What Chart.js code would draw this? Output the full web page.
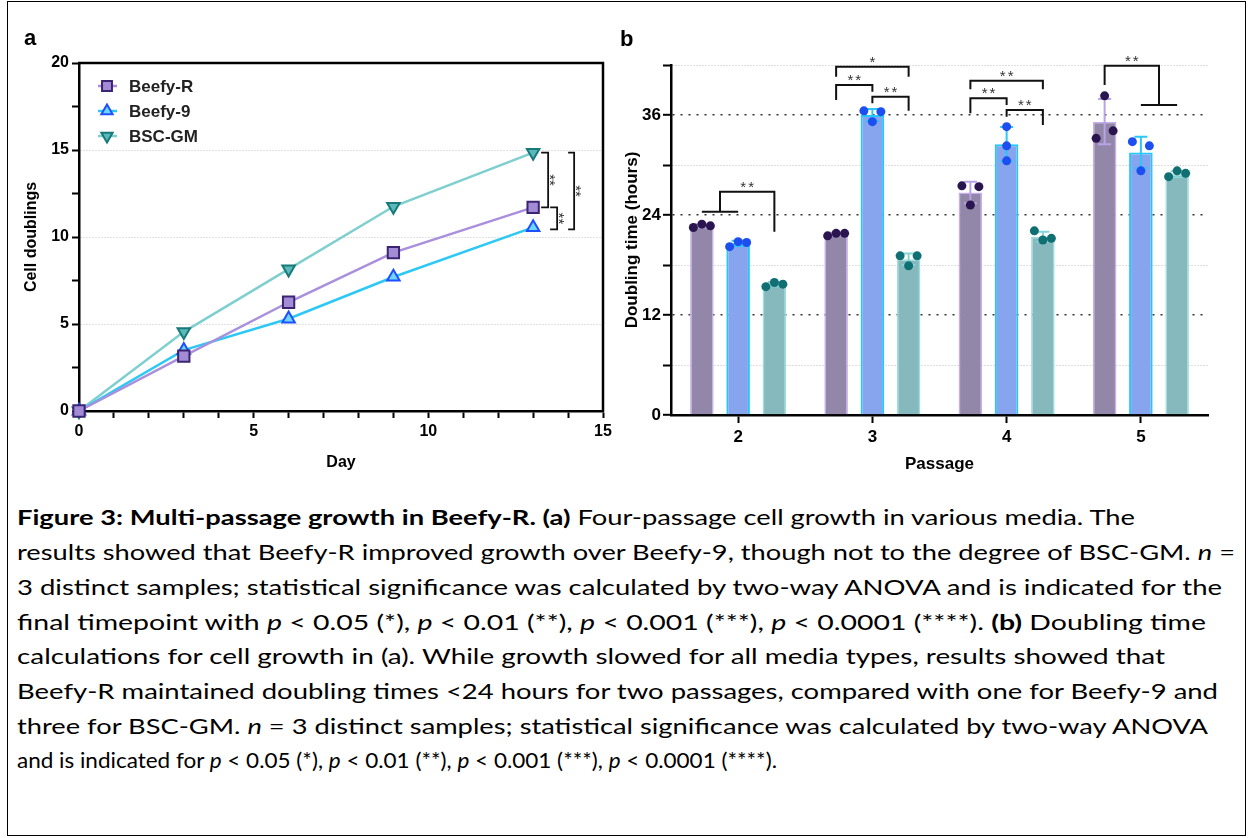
<!DOCTYPE html>
<html><head><meta charset="utf-8">
<script src="https://cdn.jsdelivr.net/npm/chart.js@4.4.1/dist/chart.umd.min.js"></script>
<style>
html,body{margin:0;padding:0;background:#fff;}
body{width:1253px;height:838px;position:relative;overflow:hidden;font-family:"Liberation Sans",Arial,sans-serif;}
#frame{position:absolute;left:7px;top:1px;width:1239px;height:835px;border:1.5px solid #000;box-sizing:border-box;pointer-events:none;z-index:5;}
.lbl{position:absolute;font:bold 22px "Liberation Sans",Arial,sans-serif;line-height:22px;color:#000;z-index:4;}
#cap{position:absolute;left:17px;top:499px;font-family:Lato,"Open Sans",sans-serif;font-size:21px;color:#000;}
.ln{position:absolute;left:0;white-space:nowrap;transform-origin:0 50%;line-height:35px;height:35px;}
</style>
</head><body>
<canvas id="ca" width="620" height="480" style="position:absolute;left:0;top:0"></canvas>
<canvas id="cb" width="633" height="480" style="position:absolute;left:620px;top:0"></canvas>
<div class="lbl" style="left:24px;top:27px">a</div>
<div class="lbl" style="left:620px;top:28px">b</div>
<div id="cap">
<div class="ln" data-w="1118" style="top:0px"><b>Figure 3: Multi-passage growth in Beefy-R. (a)</b> Four-passage cell growth in various media. The</div>
<div class="ln" data-w="1218" style="top:35px">results showed that Beefy-R improved growth over Beefy-9, though not to the degree of BSC-GM. <i>n</i> =</div>
<div class="ln" data-w="1205" style="top:70px">3 distinct samples; statistical significance was calculated by two-way ANOVA and is indicated for the</div>
<div class="ln" data-w="1189" style="top:104.5px">final timepoint with <i>p</i> &lt; 0.05 (*), <i>p</i> &lt; 0.01 (**), <i>p</i> &lt; 0.001 (***), <i>p</i> &lt; 0.0001 (****). <b>(b)</b> Doubling time</div>
<div class="ln" data-w="1148" style="top:139px">calculations for cell growth in (a). While growth slowed for all media types, results showed that</div>
<div class="ln" data-w="1201" style="top:174px">Beefy-R maintained doubling times &lt;24 hours for two passages, compared with one for Beefy-9 and</div>
<div class="ln" data-w="1191" style="top:208.5px">three for BSC-GM. <i>n</i> = 3 distinct samples; statistical significance was calculated by two-way ANOVA</div>
<div class="ln" data-w="760" style="top:243px">and is indicated for <i>p</i> &lt; 0.05 (*), <i>p</i> &lt; 0.01 (**), <i>p</i> &lt; 0.001 (***), <i>p</i> &lt; 0.0001 (****).</div>
</div>
<div id="frame"></div>
<script>
// ---------- data ----------
const seriesNames = ['Beefy-R', 'Beefy-9', 'BSC-GM'];
// panel a: cumulative cell doublings
const days = [0, 3, 6, 9, 13];
const doublingsBeefyR = [0, 3.15, 6.25, 9.1, 11.7];
const doublingsBeefy9 = [0, 3.5, 5.3, 7.7, 10.55];
const doublingsBscGM = [0, 4.55, 8.15, 11.75, 14.85];
const xTicksA = [0, 5, 10, 15];
const yTicksA = [0, 5, 10, 15, 20];
// panel b: doubling time (hours), bar = mean, points = replicates
const passages = ['2', '3', '4', '5'];
const dtBeefyR = [22.7, 21.7, 26.7, 35.2];
const dtBeefy9 = [20.6, 36.0, 32.5, 31.5];
const dtBscGM = [15.7, 18.7, 21.4, 28.9];
const repBeefyR = [[22.5, 22.9, 22.7], [21.5, 21.8, 21.8], [27.5, 25.2, 27.4], [38.3, 33.2, 34.1]];
const repBeefy9 = [[20.2, 20.8, 20.7], [36.5, 35.2, 36.4], [34.6, 32.3, 30.5], [32.8, 29.3, 32.3]];
const repBscGM = [[15.4, 15.9, 15.7], [19.1, 17.9, 19.1], [22.1, 21.0, 21.2], [28.6, 29.3, 29.0]];
const yTicksB = [0, 12, 24, 36];

// ---------- caption fitting ----------
document.querySelectorAll('.ln').forEach(el => {
  const w = el.getBoundingClientRect().width;
  el.style.transform = 'scaleX(' + (parseFloat(el.dataset.w) / w) + ')';
});

Chart.defaults.font.family = '"Liberation Sans", Arial, sans-serif';
Chart.defaults.color = '#000';
const FONT = '"Liberation Sans", Arial, sans-serif';

// ---------- panel a ----------
const lineColors = ['#a98fdc', '#2ec8f5', '#7fcfcf'];
const mBorder = ['#3b2472', '#1f4fff', '#177a7a'];
const mFill = ['#a48bd6', '#6fd6fb', '#5cb9b9'];
const mStyle = ['rect', 'triangle', 'triangle'];
const mRot = [0, 0, 180];
const mRad = [8, 7.2, 7.2];
const seriesA = [doublingsBeefyR, doublingsBeefy9, doublingsBscGM];

const panelAPlugin = {
  id: 'panelA',
  beforeDatasetsDraw(chart) {
    const {ctx, chartArea: a} = chart;
    ctx.save();
    ctx.strokeStyle = '#000'; ctx.lineWidth = 2.5;
    ctx.beginPath();
    ctx.moveTo(a.left - 1, a.top); ctx.lineTo(a.right, a.top); ctx.lineTo(a.right, a.bottom + 1);
    ctx.stroke();
    ctx.restore();
  },
  afterDraw(chart) {
    const {ctx, chartArea: a} = chart;
    const xs = chart.scales.x, ys = chart.scales.y;
    // legend
    ctx.save();
    seriesNames.forEach((name, i) => {
      const y = a.top + 23 + i * 25;
      const x0 = a.left + 19, x1 = a.left + 38, xm = a.left + 28;
      ctx.strokeStyle = lineColors[i]; ctx.lineWidth = 2.5;
      ctx.beginPath(); ctx.moveTo(x0, y); ctx.lineTo(x1, y); ctx.stroke();
      ctx.fillStyle = mFill[i]; ctx.strokeStyle = mBorder[i]; ctx.lineWidth = 2;
      Chart.helpers.drawPoint(ctx, {pointStyle: mStyle[i], radius: i === 0 ? 7 : 6.5, rotation: mRot[i], borderWidth: 2}, xm, y);
      ctx.fillStyle = '#222'; ctx.font = 'bold 17px ' + FONT; ctx.textBaseline = 'middle'; ctx.textAlign = 'left';
      ctx.fillText(name, a.left + 50, y + 1);
    });
    ctx.restore();
    // significance brackets (final timepoint)
    const last = days.length - 1;
    const xe = xs.getPixelForValue(days[last]);
    const yR = ys.getPixelForValue(doublingsBeefyR[last]);
    const y9 = ys.getPixelForValue(doublingsBeefy9[last]) + 2;
    const yG = ys.getPixelForValue(doublingsBscGM[last]);
    const vb = (xb, xt, y1, y2) => {
      ctx.save();
      ctx.strokeStyle = '#111'; ctx.lineWidth = 1.8;
      ctx.beginPath(); ctx.moveTo(xt, y1); ctx.lineTo(xb, y1); ctx.lineTo(xb, y2); ctx.lineTo(xt, y2); ctx.stroke();
      ctx.translate(xb - 3, (y1 + y2) / 2); ctx.rotate(Math.PI / 2);
      ctx.fillStyle = '#333'; ctx.font = '15px ' + FONT; ctx.textAlign = 'center'; ctx.textBaseline = 'alphabetic';
      ctx.fillText('**', 0, 0);
      ctx.restore();
    };
    vb(xe + 15, xe + 8, yG, yR);
    vb(xe + 24, xe + 17, yR, y9);
    vb(xe + 41, xe + 35, yG, y9);
  }
};

new Chart(document.getElementById('ca'), {
  type: 'line',
  data: {
    datasets: seriesA.map((vals, i) => ({
      label: seriesNames[i],
      data: days.map((d, k) => ({x: d, y: vals[k]})),
      borderColor: lineColors[i], borderWidth: 2.5,
      pointStyle: mStyle[i], pointRotation: mRot[i], pointRadius: mRad[i],
      pointBackgroundColor: mFill[i], pointBorderColor: mBorder[i], pointBorderWidth: 2,
      clip: false, tension: 0
    }))
  },
  options: {
    responsive: false, animation: false, events: [],
    layout: {padding: {top: 63, right: 17, left: 0, bottom: 0}},
    plugins: {legend: {display: false}, tooltip: {enabled: false}},
    scales: {
      x: {
        type: 'linear', min: 0, max: 15,
        afterFit: s => { s.height = 69; },
        ticks: {stepSize: 1, autoSkip: false, maxRotation: 0, padding: 4, color: '#000',
          font: {size: 16, weight: 'bold'},
          callback: v => xTicksA.includes(v) ? String(v) : ''},
        grid: {drawOnChartArea: false, tickLength: 7, tickColor: '#000', tickWidth: 2},
        border: {color: '#000', width: 2.5},
        title: {display: true, text: 'Day', color: '#000', font: {size: 16, weight: 'bold'}, padding: {top: 0, bottom: 8}}
      },
      y: {
        min: 0, max: 20,
        afterFit: s => { s.width = 79; },
        ticks: {stepSize: 2.5, autoSkip: false, padding: 3, color: '#000',
          font: {size: 16, weight: 'bold'},
          callback: v => yTicksA.includes(v) ? String(v) : ''},
        grid: {
          color: c => (c.tick && yTicksA.includes(c.tick.value) && c.tick.value > 0 && c.tick.value < 20) ? '#c4c4c4' : 'rgba(0,0,0,0)',
          lineWidth: 1, tickLength: 7, tickColor: '#000', tickWidth: 2
        },
        border: {color: '#000', width: 2.5, dash: [1, 2]},
        title: {display: true, text: 'Cell doublings', color: '#000', font: {size: 16, weight: 'bold'}, padding: {top: 22, bottom: 0}}
      }
    }
  },
  plugins: [panelAPlugin]
});

// ---------- panel b ----------
const barFill = ['#9287a9', '#86a5ee', '#85b9be'];
const barBorder = ['#c6aef0', '#22c8fb', '#9cdede'];
const barBW = [1.5, 2, 1.5];
const ptColor = ['#2b1550', '#1d4ff0', '#0f6f72'];
const errColor = ['#b9a2e6', '#2cc6f7', '#86d4d6'];
const barsB = [dtBeefyR, dtBeefy9, dtBscGM];
const repsB = [repBeefyR, repBeefy9, repBscGM];

function swarm(pys, gap, d) {
  const idx = pys.map((p, i) => i).sort((a, b) => pys[a] - pys[b]);
  const groups = []; let cur = [idx[0]];
  for (let k = 1; k < idx.length; k++) {
    if (pys[idx[k]] - pys[idx[k - 1]] < gap) cur.push(idx[k]);
    else { groups.push(cur); cur = [idx[k]]; }
  }
  groups.push(cur);
  const off = new Array(pys.length).fill(0);
  groups.forEach(g => {
    g.sort((a, b) => a - b);
    const pat = g.length === 1 ? [0] : g.length === 2 ? [-d, d] : [-d, 0, d];
    g.forEach((i, k) => { off[i] = pat[k] || 0; });
  });
  return off;
}

const panelBPlugin = {
  id: 'panelB',
  afterDatasetsDraw(chart) {
    const ctx = chart.ctx, ys = chart.scales.y;
    repsB.forEach((rep, di) => {
      const meta = chart.getDatasetMeta(di);
      rep.forEach((vals, ci) => {
        const x = meta.data[ci].x;
        const mean = barsB[di][ci];
        const sd = Math.sqrt(vals.reduce((s, v) => s + (v - mean) * (v - mean), 0) / (vals.length - 1));
        const yt = ys.getPixelForValue(mean + sd), yb = ys.getPixelForValue(mean - sd);
        ctx.save();
        ctx.strokeStyle = errColor[di]; ctx.lineWidth = 2;
        ctx.beginPath();
        ctx.moveTo(x, yt); ctx.lineTo(x, yb);
        ctx.moveTo(x - 6.5, yt); ctx.lineTo(x + 6.5, yt);
        ctx.moveTo(x - 6.5, yb); ctx.lineTo(x + 6.5, yb);
        ctx.stroke();
        const pys = vals.map(v => ys.getPixelForValue(v));
        const offs = swarm(pys, 13, 8.5);
        ctx.fillStyle = ptColor[di];
        pys.forEach((py, k) => {
          ctx.beginPath(); ctx.arc(x + offs[k], py, 4.5, 0, Math.PI * 2); ctx.fill();
        });
        ctx.restore();
      });
    });
  },
  afterDraw(chart) {
    const ctx = chart.ctx, ys = chart.scales.y;
    const bx = (c, d) => chart.getDatasetMeta(d).data[c].x;
    const Y = v => ys.getPixelForValue(v);
    const line = (pts) => {
      ctx.beginPath(); ctx.moveTo(pts[0][0], pts[0][1]);
      for (let i = 1; i < pts.length; i++) ctx.lineTo(pts[i][0], pts[i][1]);
      ctx.stroke();
    };
    const label = (x, y, t) => {
      ctx.fillStyle = '#333'; ctx.font = '15px ' + FONT; ctx.textAlign = 'center'; ctx.textBaseline = 'alphabetic';
      try { ctx.letterSpacing = '2px'; } catch (e) {}
      ctx.fillText(t, x + 1, y + 1);
      try { ctx.letterSpacing = '0px'; } catch (e) {}
    };
    const br = (x1, x2, top, l, r, t) => {
      line([[x1, Y(l)], [x1, Y(top)], [x2, Y(top)], [x2, Y(r)]]);
      label((x1 + x2) / 2, Y(top) - 1, t);
    };
    ctx.save();
    ctx.strokeStyle = '#111'; ctx.lineWidth = 2;
    // passage 2
    line([[bx(0, 0), Y(24.4)], [bx(0, 1), Y(24.4)]]);
    br((bx(0, 0) + bx(0, 1)) / 2, bx(0, 2), 26.8, 24.4, 22.0, '**');
    // passage 3
    br(bx(1, 0), bx(1, 2), 41.8, 40.6, 40.6, '*');
    br(bx(1, 0), bx(1, 1), 39.6, 37.8, 38.8, '**');
    br(bx(1, 1), bx(1, 2), 38.2, 37.4, 36.5, '**');
    // passage 4
    br(bx(2, 0), bx(2, 2), 40.1, 39.1, 39.1, '**');
    br(bx(2, 0), bx(2, 1), 38.0, 36.2, 37.2, '**');
    br(bx(2, 1), bx(2, 2), 36.6, 35.8, 34.8, '**');
    // passage 5
    line([[bx(3, 1), Y(37.2)], [bx(3, 2), Y(37.2)]]);
    br(bx(3, 0), (bx(3, 1) + bx(3, 2)) / 2, 41.9, 39.6, 37.2, '**');
    ctx.restore();
  }
};

new Chart(document.getElementById('cb'), {
  type: 'bar',
  data: {
    labels: passages,
    datasets: barsB.map((vals, i) => ({
      label: seriesNames[i], data: vals,
      backgroundColor: barFill[i], borderColor: barBorder[i], borderWidth: barBW[i],
      categoryPercentage: 0.81, barPercentage: 0.65
    }))
  },
  options: {
    responsive: false, animation: false, events: [],
    layout: {padding: {top: 65, right: 45, left: 0, bottom: 0}},
    plugins: {legend: {display: false}, tooltip: {enabled: false}},
    scales: {
      x: {
        afterFit: s => { s.height = 65; },
        ticks: {padding: 4, color: '#000', font: {size: 17, weight: 'bold'}, maxRotation: 0},
        grid: {offset: false, drawOnChartArea: false, tickLength: 8, tickColor: '#000', tickWidth: 2},
        border: {color: '#000', width: 2.5},
        title: {display: true, text: 'Passage', color: '#000', font: {size: 17, weight: 'bold'}, padding: {top: 0, bottom: 5}}
      },
      y: {
        min: 0, max: 42,
        afterFit: s => { s.width = 51; },
        ticks: {stepSize: 6, autoSkip: false, padding: 2, color: '#000', font: {size: 17, weight: 'bold'},
          callback: v => yTicksB.includes(v) ? String(v) : ''},
        grid: {
          color: c => !c.tick || c.tick.value === 0 ? 'rgba(0,0,0,0)' : (c.tick.value % 12 === 0 ? '#333' : '#bdbdbd'),
          lineWidth: c => (c.tick && c.tick.value % 12 === 0) ? 1.6 : 1,
          tickLength: 8, tickColor: '#000', tickWidth: 2
        },
        border: {color: '#000', width: 2.5,
          dash: c => (c.tick && c.tick.value % 12 === 0) ? [2, 6] : [1, 2]},
        title: {display: true, text: 'Doubling time (hours)', color: '#000', font: {size: 17, weight: 'bold'}, padding: {top: 2, bottom: 0}}
      }
    }
  },
  plugins: [panelBPlugin]
});
</script>
</body></html>
